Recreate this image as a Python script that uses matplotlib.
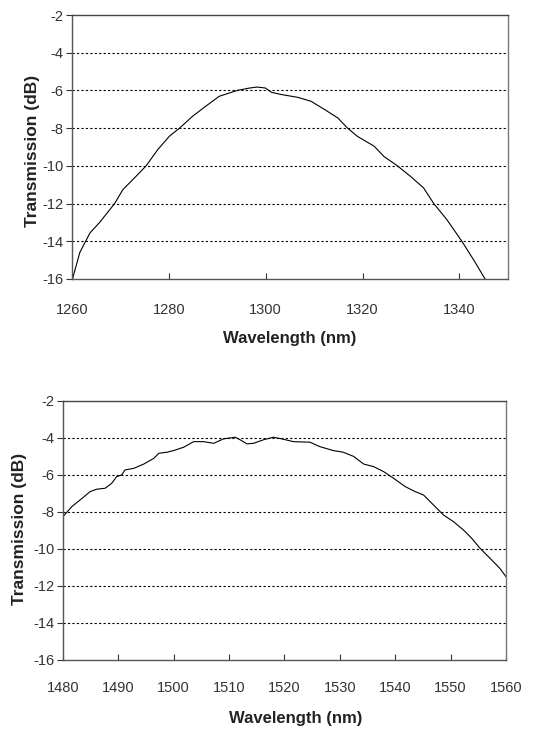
import matplotlib as mpl
import matplotlib.pyplot as plt
import numpy as np

# data
wl_o = [1260.1, 1261.6, 1263.7, 1265.7, 1268.8, 1270.5, 1273.2, 1275.3, 1277.7,
        1280.1, 1282.2, 1284.9, 1287.6, 1290.4, 1294.1, 1296.5, 1298.2, 1299.9,
        1301.2, 1303.3, 1306.7, 1309.4, 1312.2, 1314.9, 1316.9, 1318.9, 1322.4,
        1324.4, 1327.2, 1329.9, 1332.6, 1334.7, 1337.4, 1340.5, 1342.9, 1345.3]
tr_o = [-16.0, -14.6, -13.56, -13.0, -12.0, -11.26, -10.56, -10.0, -9.14,
        -8.43, -8.0, -7.37, -6.84, -6.31, -6.0, -5.88, -5.82, -5.87,
        -6.1, -6.22, -6.37, -6.58, -7.02, -7.46, -8.0, -8.43, -8.96,
        -9.5, -10.0, -10.56, -11.17, -12.0, -12.85, -14.0, -14.97, -16.0]

wl_c = [1480.0, 1481.6, 1483.1, 1484.9, 1486.1, 1487.6, 1488.8, 1489.7, 1490.6,
        1491.2, 1492.8, 1494.6, 1496.4, 1497.3, 1498.8, 1500.0, 1501.8, 1503.6,
        1505.4, 1507.2, 1509.0, 1511.1, 1512.0, 1513.2, 1514.4, 1516.2, 1518.0,
        1519.8, 1521.6, 1524.6, 1526.4, 1528.8, 1530.6, 1532.5, 1534.3, 1536.1,
        1537.9, 1539.7, 1541.8, 1543.6, 1545.1, 1546.9, 1548.7, 1550.5, 1552.3,
        1553.8, 1555.3, 1557.1, 1558.9, 1560.0]
tr_c = [-8.25, -7.71, -7.35, -6.9, -6.77, -6.72, -6.45, -6.09, -6.0,
        -5.73, -5.64, -5.41, -5.1, -4.83, -4.77, -4.68, -4.5, -4.2,
        -4.2, -4.29, -4.05, -3.96, -4.1, -4.32, -4.29, -4.1, -3.96,
        -4.07, -4.2, -4.23, -4.47, -4.68, -4.77, -5.0, -5.41, -5.55,
        -5.82, -6.18, -6.63, -6.9, -7.08, -7.62, -8.16, -8.52, -8.97,
        -9.42, -9.96, -10.5, -11.05, -11.5]

y_ticks = [-16, -14, -12, -10, -8, -6, -4, -2]
grid_levels = [-14, -12, -10, -8, -6, -4]

FONT = ['Liberation Sans', 'DejaVu Sans']

mpl.rcParams['font.family'] = FONT
mpl.rcParams['axes.unicode_minus'] = False

fig = plt.figure(figsize=(5.51, 7.29), dpi=100)


def panel(rect, x, y, xlim, xticks, xpad):
    ax = fig.add_axes(rect)
    ax.plot(x, y, color='black', lw=0.8)
    for g in grid_levels:
        ax.axhline(g, color='black', lw=0.8, dashes=(2, 2), zorder=0)
    ax.set_xlim(xlim)
    ax.set_ylim(-16, -2)
    ax.set_xticks(xticks)
    ax.set_yticks(y_ticks)
    ax.tick_params(axis='x', direction='in', length=4, width=0.8,
                   pad=xpad, labelsize=10.5, colors='#333333')
    ax.tick_params(axis='y', direction='out', length=4, width=0.8,
                   pad=2, labelsize=10.5, colors='#333333')
    ax.spines['left'].set_color('#555555')
    ax.spines['bottom'].set_color('#555555')
    ax.spines['top'].set_color('#444444')
    ax.spines['right'].set_color('#777777')
    for s in ax.spines.values():
        s.set_linewidth(1.0)
    return ax


ax1 = panel([0.1307, 0.6173, 0.791, 0.3621], wl_o, tr_o, (1260, 1350),
            [1260, 1280, 1300, 1320, 1340], 17)
ax2 = panel([0.1143, 0.0947, 0.804, 0.3553], wl_c, tr_c, (1480, 1560),
            list(range(1480, 1561, 10)), 15)

fig.text(33 / 551, 1 - 151 / 729, 'Transmission (dB)', rotation=90,
         ha='center', va='center', fontsize=12.5, fontweight='bold',
         color='#222222')
fig.text(290 / 551, 1 - 338 / 729, 'Wavelength (nm)', ha='center',
         va='center', fontsize=12, fontweight='bold', color='#222222')
fig.text(20 / 551, 1 - 529 / 729, 'Transmission (dB)', rotation=90,
         ha='center', va='center', fontsize=12.5, fontweight='bold',
         color='#222222')
fig.text(296 / 551, 1 - 718 / 729, 'Wavelength (nm)', ha='center',
         va='center', fontsize=12, fontweight='bold', color='#222222')

fig.savefig('out.png', dpi=100)
